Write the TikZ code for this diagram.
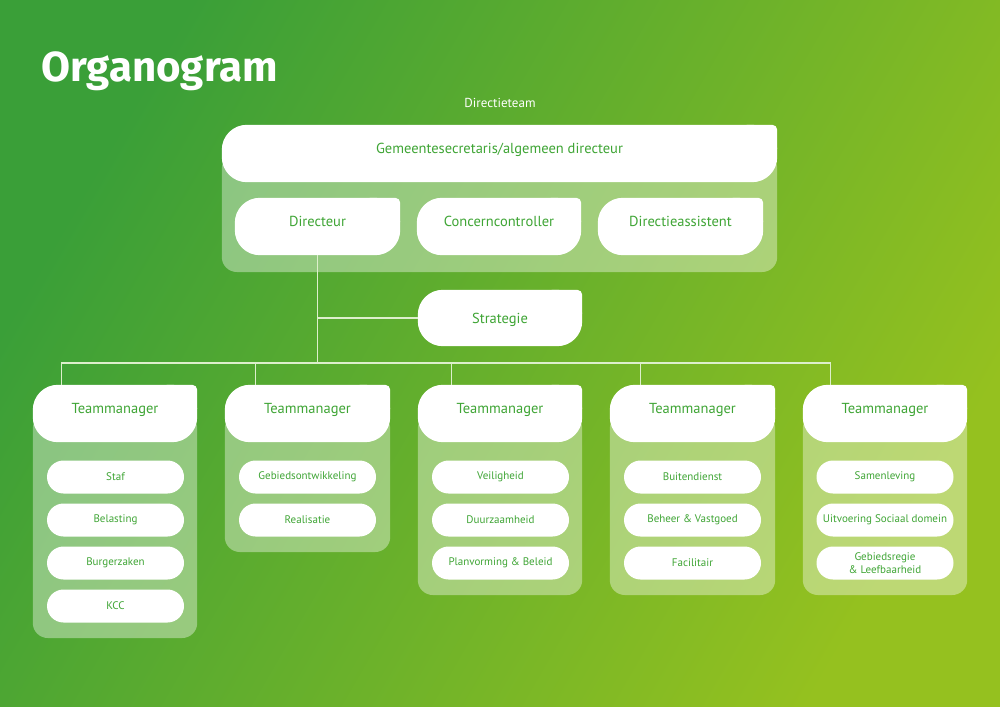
\documentclass[tikz,border=0pt]{standalone}
\usepackage{fontspec}
\setmainfont{PT Sans}
\newfontfamily\titlefont{Fira Sans}
\usetikzlibrary{positioning}

\definecolor{bgleft}{HTML}{3A9F38}
\definecolor{bgright}{HTML}{95C11F}
\definecolor{labelgreen}{HTML}{3FA535}
\definecolor{linkcol}{HTML}{DDEFCC}

\pgfdeclarelayer{back}
\pgfdeclarelayer{panel}
\pgfdeclarelayer{box}
\pgfsetlayers{back,panel,box,main}

% white tab behind a head node: big rounded corners, small one top right
\newcommand{\headfill}[1]{%
  \begin{pgfonlayer}{box}
    \fill[white,rounded corners=25pt] (#1.south west) rectangle (#1.north east);
    \fill[white,rounded corners=5pt] ([xshift=-35pt]#1.north east) rectangle (#1.east);
  \end{pgfonlayer}}
% light panel hanging below a head node, down to y = #2
\newcommand{\panelfill}[2]{%
  \begin{pgfonlayer}{panel}
    \fill[white,opacity=.38,rounded corners=15pt] (#1.west) rectangle (#1.east |- 0,#2);
  \end{pgfonlayer}}

\begin{document}
\begin{tikzpicture}[x=1pt,y=-1pt]
    \tikzstyle{head}=[minimum width=164,minimum height=57,inner sep=0pt,text=labelgreen,
      font=\fontsize{14.5}{16}\selectfont,text height=9pt,text depth=9pt]
    \tikzstyle{unit}=[fill=white,rounded corners=16.5pt,minimum width=137,minimum height=33,
      inner sep=0pt,text=labelgreen,align=center,font=\fontsize{11}{13.5}\selectfont]
    \tikzstyle{link}=[draw=linkcol,line width=1.3pt]

    \useasboundingbox (0,0) rectangle (1000,706);
    \begin{pgfonlayer}{back}
      \shade[top color=bgleft,bottom color=bgright,shading angle=60] (0,0) rectangle (1000,706);
    \end{pgfonlayer}

    \node[anchor=base west,text=white,font=\titlefont\bfseries\fontsize{42}{48}\selectfont] (title) at (38,82) {Organogram};
    \node[text=white,font=\fontsize{13}{15}\selectfont] (team) at (500,103) {Directieteam};

    % directieteam
    \node[head,minimum width=555] (gs) at (499.5,153.5) {Gemeentesecretaris/algemeen directeur};
    \node[head,minimum width=165] (dir) at (317.5,226.5) {Directeur};
    \node[head] (cc) at (499,226.5) {Concerncontroller};
    \node[head,minimum width=165] (da) at (680.5,226.5) {Directieassistent};
    \node[head,minimum height=56,text height=10pt,text depth=0pt] (strat) at (500,318) {Strategie};
    \panelfill{gs}{272}
    \headfill{gs} \headfill{dir} \headfill{cc} \headfill{da} \headfill{strat}

    % teams
    \node[head] (tm1) at (115,413.5) {Teammanager};
    \node[head,minimum width=165] (tm2) at (307.5,413.5) {Teammanager};
    \node[head] (tm3) at (500,413.5) {Teammanager};
    \node[head,minimum width=165] (tm4) at (692.5,413.5) {Teammanager};
    \node[head] (tm5) at (885,413.5) {Teammanager};
    \panelfill{tm1}{638} \panelfill{tm2}{552} \panelfill{tm3}{595}
    \panelfill{tm4}{595} \panelfill{tm5}{595}
    \headfill{tm1} \headfill{tm2} \headfill{tm3} \headfill{tm4} \headfill{tm5}

    \node[unit] (staf) at (115.5,477) {Staf};
    \node[unit] (bel) at (115.5,520) {Belasting};
    \node[unit] (burg) at (115.5,563) {Burgerzaken};
    \node[unit] (kcc) at (115.5,606) {KCC};

    \node[unit] (gebont) at (307.5,477) {Gebiedsontwikkeling};
    \node[unit] (real) at (307.5,520) {Realisatie};

    \node[unit] (veil) at (500.5,477) {Veiligheid};
    \node[unit] (duur) at (500.5,520) {Duurzaamheid};
    \node[unit] (plan) at (500.5,563) {Planvorming \& Beleid};

    \node[unit] (buit) at (692.5,477) {Buitendienst};
    \node[unit] (beh) at (692.5,520) {Beheer \& Vastgoed};
    \node[unit] (fac) at (692.5,563) {Facilitair};

    \node[unit] (samen) at (885,477) {Samenleving};
    \node[unit] (uitv) at (885,520) {Uitvoering Sociaal domein};
    \node[unit] (regie) at (885,563) {Gebiedsregie\\\& Leefbaarheid};

    % lines
    \coordinate (bus) at (317.5,363);
    \draw[link] (dir.south) -- (bus);
    \draw[link] (dir.south) |- (strat.west);
    \draw[link] (bus) -| ([xshift=29pt]tm1.north west);
    \draw[link] (bus) -| ([xshift=31pt]tm2.north west);
    \draw[link] (bus) -| ([xshift=34pt]tm3.north west);
    \draw[link] (bus) -| ([xshift=31pt]tm4.north west);
    \draw[link] (bus) -| ([xshift=28pt]tm5.north west);
\end{tikzpicture}
\end{document}
